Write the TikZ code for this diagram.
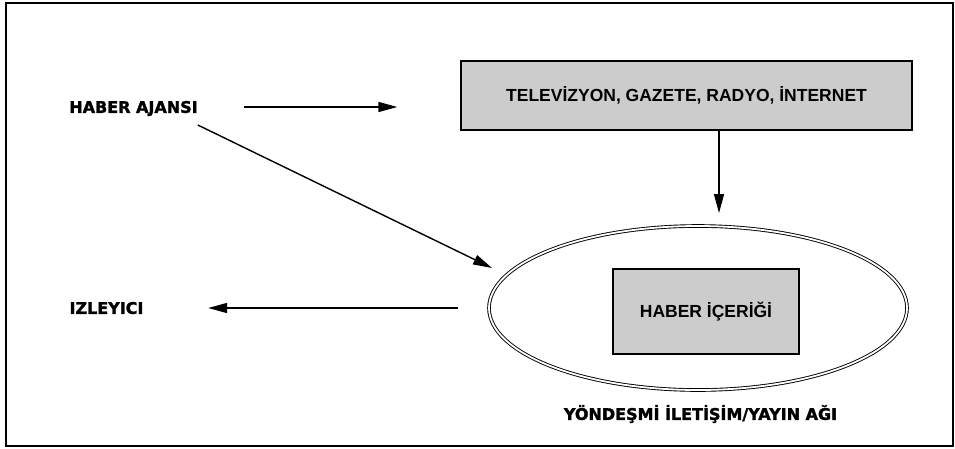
\documentclass[tikz,border=0pt]{standalone}
\usepackage{fontspec}
\setmainfont{Liberation Sans}
\newfontfamily\heavyfont{DejaVu Sans}[BoldFeatures={FakeBold=1.8}]
\usetikzlibrary{arrows.meta,shapes.geometric}
\definecolor{boxgray}{RGB}{204,204,204}

\begin{document}
\begin{tikzpicture}[x=1pt,y=-1pt,
  arr/.style={line width=1.4pt,-{Triangle[length=19pt,width=10pt]}},
  graybox/.style={draw,line width=1.3pt,fill=boxgray,inner sep=0pt,
    font=\bfseries\fontsize{17.5}{20}\selectfont,text height=12.5pt,text depth=0pt},
  heavy/.style={font=\heavyfont\bfseries\fontsize{16}{19}\selectfont,
    inner sep=0pt,text height=11.7pt,text depth=0pt}]
\useasboundingbox (0,0) rectangle (955,448);
\draw[line width=1.3pt] (6,3) rectangle (953,446);
% sources and media
\node[heavy] (ajans) at (133.5,107) {HABER AJANSI};
\node[graybox,minimum width=451pt,minimum height=69pt] (medya) at (686.5,95.5)
  {TELEVİZYON, GAZETE, RADYO, İNTERNET};
% convergent network
\node[ellipse,draw,double,double distance=1.8pt,line width=0.9pt,
  minimum width=418pt,minimum height=164pt,inner sep=0pt] (ag) at (698,308) {};
\node[graybox,minimum width=186pt,minimum height=85pt] (icerik) at (706,311.5)
  {HABER İÇERİĞİ};
\node[heavy] (agadi) at (700.5,414) {YÖNDEŞMİ İLETİŞİM/YAYIN AĞI};
\node[heavy] (izleyici) at (106.5,308) {IZLEYICI};
\coordinate (ajtip) at (492,268);
% connectors
\draw[arr,shorten <=46.5pt,shorten >=63pt] (ajans.east) -- (ajans.east -| medya.west);
\draw[arr,shorten >=12.5pt] ([xshift=32.5pt]medya.south) -- ([xshift=32.5pt]medya.south |- ag.north);
\draw[arr] ([yshift=-12pt]ajans.south east) -- (ajtip);
\draw[arr,shorten <=30.5pt,shorten >=64.5pt] (ag.west) -- (ag.west -| izleyici.east);
\end{tikzpicture}
\end{document}
